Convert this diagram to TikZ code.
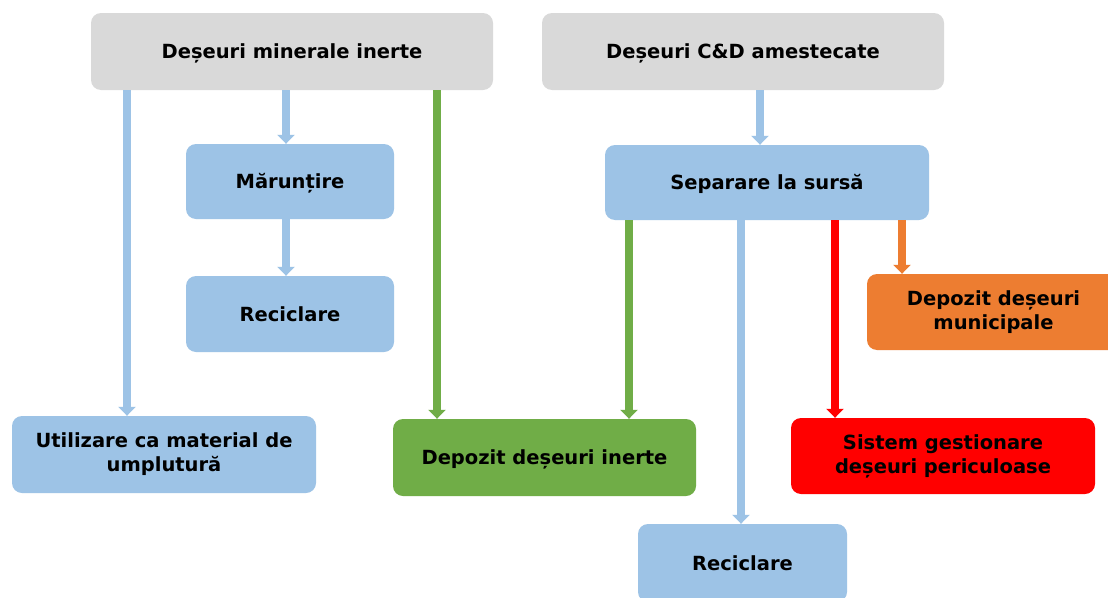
\documentclass[tikz,border=0pt]{standalone}
\usepackage{fontspec}
\setmainfont{DejaVu Sans}
\usetikzlibrary{arrows.meta}
\definecolor{cgray}{HTML}{D9D9D9}
\definecolor{cblue}{HTML}{9DC3E6}
\definecolor{cgreen}{HTML}{70AD47}
\definecolor{corange}{HTML}{ED7D31}
\definecolor{cred}{HTML}{FF0000}
\tikzset{
  box/.style={rounded corners=10pt, inner sep=0pt, align=center,
    font=\fontsize{19.5}{24}\selectfont\bfseries, text=black},
  oneline/.style={text height=14pt, text depth=0pt},
  twoline/.style={yshift=0pt},
  arr/.style={line width=8pt, -{Triangle[width=17pt,length=9pt]}},
}
\begin{document}
\begin{tikzpicture}[x=1pt,y=-1pt]
\useasboundingbox (0,0) rectangle (1108,597);
\fill[white] (0,0) rectangle (1108,597);
\node[box, oneline, fill=cgray, minimum width=402pt, minimum height=77pt] (A) at (292,51.5) {Deșeuri minerale inerte};
\node[box, oneline, fill=cgray, minimum width=402pt, minimum height=77pt] (B) at (743,51.5) {Deșeuri C\&D amestecate};
\node[box, oneline, fill=cblue, minimum width=208pt, minimum height=75pt] (Mar) at (290,181.5) {Mărunțire};
\node[box, oneline, fill=cblue, minimum width=208pt, minimum height=76pt] (RecL) at (290,314) {Reciclare};
\node[box, fill=cblue, minimum width=304pt, minimum height=77pt] (Util) at (164,454.5) {Utilizare ca material de\\umplutură};
\node[box, oneline, fill=cgreen, minimum width=303pt, minimum height=77pt] (DepI) at (544.5,457.5) {Depozit deșeuri inerte};
\node[box, oneline, fill=cblue, minimum width=324pt, minimum height=75pt] (Sep) at (767,182.5) {Separare la sursă};
\node[box, fill=corange, minimum width=253pt, minimum height=76pt] (Mun) at (993.5,312) {Depozit deșeuri\\municipale};
\node[box, fill=cred, minimum width=304pt, minimum height=76pt] (Sys) at (943,456) {Sistem gestionare\\deșeuri periculoase};
\node[box, oneline, fill=cblue, minimum width=209pt, minimum height=78pt] (RecB) at (742.5,563) {Reciclare};
% arrows
\draw[arr, cblue] (A.south -| 127,0) -- (Util.north -| 127,0);
\draw[arr, cblue] (A.south -| 286,0) -- (Mar.north -| 286,0);
\draw[arr, cblue] (Mar.south -| 286,0) -- (RecL.north -| 286,0);
\draw[arr, cgreen] (A.south -| 437,0) -- (DepI.north -| 437,0);
\draw[arr, cblue] (B.south -| 760,0) -- (Sep.north -| 760,0);
\draw[arr, cgreen] (Sep.south -| 629,0) -- (DepI.north -| 629,0);
\draw[arr, cblue] (Sep.south -| 741,0) -- (RecB.north -| 741,0);
\draw[arr, cred] (Sep.south -| 835,0) -- (Sys.north -| 835,0);
\draw[arr, corange] (Sep.south -| 902,0) -- (Mun.north -| 902,0);
\end{tikzpicture}
\end{document}
